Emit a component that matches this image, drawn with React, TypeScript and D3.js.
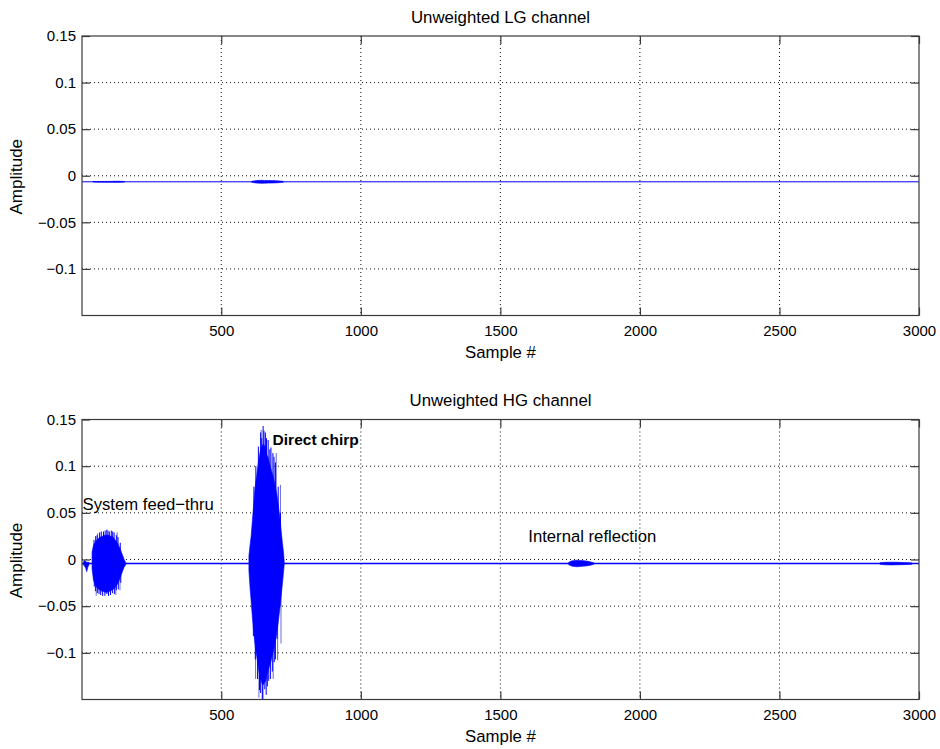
import React, { useRef, useEffect } from "react";
import * as d3 from "d3";

const WIDTH = 940;
const HEIGHT = 749;
const LEFT = 82;
const RIGHT = 919;
const FONT = "'Liberation Sans', Arial, Helvetica, sans-serif";
const BLUE = "#0000ff";
const SPIKE = "#6c6cd0";
const AXIS = "#3a3a3a";

const X_DOMAIN = [1, 3000];
const Y_DOMAIN = [-0.15, 0.15];
const X_TICKS = [500, 1000, 1500, 2000, 2500, 3000];
const Y_TICKS = [-0.1, -0.05, 0, 0.05, 0.1, 0.15];

// LG channel: flat offset with two faint blips
const LG_BASE = -0.0065;
const LG_BLIP1_S = [40, 70, 100, 120, 135, 153];
const LG_BLIP1_HI = [-0.0062, -0.0061, -0.0061, -0.0059, -0.0059, -0.0062];
const LG_BLIP1_LO = [-0.0068, -0.0069, -0.0069, -0.0071, -0.0071, -0.0068];
const LG_BLIP2_S = [609, 625, 640, 655, 670, 685, 700, 722];
const LG_BLIP2_HI = [-0.006, -0.0052, -0.0049, -0.005, -0.0051, -0.0052, -0.0054, -0.006];
const LG_BLIP2_LO = [-0.007, -0.0078, -0.0081, -0.008, -0.0079, -0.0078, -0.0076, -0.007];

// HG channel
const HG_BASE = -0.0043;

const PRE_S = [6, 10, 14, 18, 22, 26];
const PRE_HI = [-0.003, -0.001, -0.002, -0.003, -0.003, -0.003];
const PRE_LO = [-0.006, -0.007, -0.009, -0.013, -0.008, -0.006];

const FEED_S = [37, 42, 47, 52, 57, 62, 67, 72, 77, 82, 87, 92, 97, 102, 107, 112, 117, 122, 127, 132, 137, 142, 147, 152, 157];
const FEED_HI = [0.008, 0.015, 0.018, 0.02, 0.022, 0.023, 0.024, 0.025, 0.025, 0.026, 0.026, 0.026, 0.026, 0.025, 0.025, 0.024, 0.022, 0.02, 0.018, 0.015, 0.012, 0.008, 0.004, 0.0, -0.003];
const FEED_LO = [-0.01, -0.022, -0.026, -0.029, -0.031, -0.032, -0.033, -0.034, -0.034, -0.035, -0.035, -0.035, -0.034, -0.034, -0.033, -0.032, -0.031, -0.029, -0.027, -0.024, -0.02, -0.016, -0.012, -0.008, -0.006];
const FEED_PEAKS = [
  [44, 0.021], [50, 0.025], [55, 0.026], [64, 0.029], [70, 0.03], [78, 0.03], [84, 0.031], [90, 0.032],
  [94, 0.031], [99, 0.03], [106, 0.031], [111, 0.03], [116, 0.029], [124, 0.026], [130, 0.024], [138, 0.018],
  [45, -0.029], [49, -0.034], [56, -0.036], [62, -0.037], [68, -0.038], [75, -0.039], [83, -0.039], [90, -0.037],
  [96, -0.039], [103, -0.038], [110, -0.036], [117, -0.037], [124, -0.033], [131, -0.032], [140, -0.025],
];
const FEED_SPIKES = [[52, -0.039], [57, 0.028], [122, -0.038], [127, 0.029], [137, -0.033]];

const CHIRP_S = [599, 603, 607, 611, 615, 619, 623, 627, 631, 635, 639, 643, 647, 651, 655, 659, 663, 667, 671, 675, 679, 683, 687, 691, 695, 699, 703, 707, 711, 715, 719, 723, 726];
const CHIRP_HI = [0.004, 0.015, 0.025, 0.04, 0.055, 0.07, 0.082, 0.09, 0.1, 0.108, 0.115, 0.12, 0.122, 0.124, 0.122, 0.12, 0.112, 0.11, 0.105, 0.1, 0.096, 0.092, 0.088, 0.082, 0.076, 0.07, 0.062, 0.052, 0.042, 0.03, 0.018, 0.008, -0.004];
const CHIRP_LO = [-0.012, -0.03, -0.045, -0.06, -0.074, -0.086, -0.096, -0.104, -0.112, -0.12, -0.126, -0.13, -0.134, -0.134, -0.132, -0.13, -0.124, -0.12, -0.116, -0.112, -0.108, -0.102, -0.098, -0.092, -0.086, -0.078, -0.07, -0.06, -0.05, -0.038, -0.026, -0.014, -0.004];
const CHIRP_PEAKS = [
  [617, 0.078], [624, 0.1], [633, 0.121], [641, 0.136], [645, 0.13], [650, 0.143], [653, 0.138], [658, 0.136],
  [662, 0.13], [668, 0.128], [674, 0.118], [678, 0.12], [685, 0.114], [689, 0.11], [694, 0.104], [704, 0.078], [712, 0.05],
  [615, -0.082], [622, -0.107], [630, -0.128], [637, -0.14], [641, -0.143], [647, -0.15], [649, -0.15], [656, -0.139],
  [661, -0.145], [665, -0.136], [670, -0.13], [676, -0.128], [683, -0.12], [690, -0.11], [694, -0.107], [700, -0.085], [710, -0.05],
];
const CHIRP_SPIKES = [[623, -0.128], [635, -0.148], [643, 0.139], [686, -0.128], [697, 0.114], [702, -0.108], [712, 0.08], [714, -0.09]];

const REFL_S = [1745, 1755, 1765, 1775, 1785, 1795, 1805, 1815, 1825, 1835];
const REFL_HI = [-0.003, -0.0015, -0.001, -0.0008, -0.001, -0.0012, -0.0015, -0.002, -0.0028, -0.0035];
const REFL_LO = [-0.0056, -0.007, -0.0075, -0.0078, -0.0075, -0.0072, -0.007, -0.0066, -0.006, -0.0052];

const TAIL_S = [2860, 2880, 2900, 2920, 2940, 2960, 2975];
const TAIL_HI = [-0.0035, -0.003, -0.0029, -0.003, -0.0032, -0.0034, -0.0037];
const TAIL_LO = [-0.0052, -0.0057, -0.0058, -0.0057, -0.0055, -0.0053, -0.005];

const PANELS = [
  {
    title: "Unweighted LG channel",
    top: 36,
    bottom: 315.5,
    base: LG_BASE,
    baseWidth: 1,
    bursts: [
      [LG_BLIP1_S, LG_BLIP1_HI, LG_BLIP1_LO],
      [LG_BLIP2_S, LG_BLIP2_HI, LG_BLIP2_LO],
    ],
    peaks: [],
    spikes: [],
    notes: [],
  },
  {
    title: "Unweighted HG channel",
    top: 419.5,
    bottom: 699.5,
    base: HG_BASE,
    baseWidth: 1.7,
    bursts: [
      [PRE_S, PRE_HI, PRE_LO],
      [FEED_S, FEED_HI, FEED_LO],
      [CHIRP_S, CHIRP_HI, CHIRP_LO],
      [REFL_S, REFL_HI, REFL_LO],
      [TAIL_S, TAIL_HI, TAIL_LO],
    ],
    peaks: [...FEED_PEAKS, ...CHIRP_PEAKS],
    spikes: [...FEED_SPIKES, ...CHIRP_SPIKES],
    notes: [
      { s: 3, v: 0.053, text: "System feed\u2212thru", bold: false, size: 16.7 },
      { s: 684, v: 0.1226, text: "Direct chirp", bold: true, size: 15.5 },
      { s: 1600, v: 0.0187, text: "Internal reflection", bold: false, size: 16.7 },
    ],
  },
];

const fmtY = (d) => (d < 0 ? "\u2212" : "") + String(Math.abs(d));

const drawPanel = (svg, p, idx) => {
  const x = d3.scaleLinear().domain(X_DOMAIN).range([LEFT, RIGHT]);
  const y = d3.scaleLinear().domain(Y_DOMAIN).range([p.bottom, p.top]);
  const g = svg.append("g");
  const clipId = `clip-${idx}`;

  g.append("clipPath")
    .attr("id", clipId)
    .append("rect")
    .attr("x", LEFT)
    .attr("y", p.top)
    .attr("width", RIGHT - LEFT)
    .attr("height", p.bottom - p.top);

  // dotted grid
  const grid = g.append("g").attr("stroke", "#111").attr("stroke-width", 1).attr("stroke-dasharray", "1,3");
  grid
    .selectAll("line.vx")
    .data(X_TICKS.filter((t) => t < X_DOMAIN[1]))
    .join("line")
    .attr("x1", (d) => x(d))
    .attr("x2", (d) => x(d))
    .attr("y1", p.top)
    .attr("y2", p.bottom);
  grid
    .selectAll("line.hy")
    .data(Y_TICKS.filter((t) => t < Y_DOMAIN[1]))
    .join("line")
    .attr("x1", LEFT)
    .attr("x2", RIGHT)
    .attr("y1", (d) => y(d))
    .attr("y2", (d) => y(d));

  const data = g.append("g").attr("clip-path", `url(#${clipId})`);

  // baseline of the trace
  data
    .append("path")
    .datum(X_DOMAIN)
    .attr("fill", "none")
    .attr("stroke", BLUE)
    .attr("stroke-width", p.baseWidth)
    .attr(
      "d",
      d3
        .line()
        .x((d) => x(d))
        .y(() => y(p.base))
    );

  // faint spikes (anti-aliased looking strokes)
  data
    .selectAll("line.spike")
    .data(p.spikes)
    .join("line")
    .attr("x1", (d) => x(d[0]))
    .attr("x2", (d) => x(d[0]))
    .attr("y1", y(p.base))
    .attr("y2", (d) => y(d[1]))
    .attr("stroke", SPIKE)
    .attr("stroke-width", 1);

  // solid burst cores
  const env = d3
    .area()
    .x((d) => x(d[0]))
    .y0((d) => y(d[2]))
    .y1((d) => y(d[1]));
  p.bursts.forEach(([s, hi, lo]) => {
    data
      .append("path")
      .datum(s.map((v, i) => [v, hi[i], lo[i]]))
      .attr("fill", BLUE)
      .attr("stroke", BLUE)
      .attr("stroke-width", 0.6)
      .attr("d", env);
  });

  // individual oscillation peaks sticking out of the cores
  data
    .selectAll("line.peak")
    .data(p.peaks)
    .join("line")
    .attr("x1", (d) => x(d[0]))
    .attr("x2", (d) => x(d[0]))
    .attr("y1", y(p.base))
    .attr("y2", (d) => y(d[1]))
    .attr("stroke", BLUE)
    .attr("stroke-width", 1);

  // box
  g.append("rect")
    .attr("x", LEFT)
    .attr("y", p.top)
    .attr("width", RIGHT - LEFT)
    .attr("height", p.bottom - p.top)
    .attr("fill", "none")
    .attr("stroke", AXIS)
    .attr("stroke-width", 1.2);

  const style = (a) => {
    a.select(".domain").remove();
    a.selectAll("line").attr("stroke", AXIS).attr("stroke-width", 1.2);
    a.attr("font-size", 15).attr("font-family", FONT);
    a.selectAll("text").attr("fill", "#000");
  };

  g.append("g")
    .attr("transform", `translate(0,${p.bottom})`)
    .call(d3.axisBottom(x).tickValues(X_TICKS).tickSize(-8).tickPadding(10).tickFormat(d3.format("d")))
    .call(style);
  g.append("g")
    .attr("transform", `translate(0,${p.top})`)
    .call(d3.axisTop(x).tickValues(X_TICKS).tickSize(-8).tickFormat(() => ""))
    .call(style);
  g.append("g")
    .attr("transform", `translate(${LEFT},0)`)
    .call(d3.axisLeft(y).tickValues(Y_TICKS).tickSize(-8).tickPadding(6).tickFormat(fmtY))
    .call(style);
  g.append("g")
    .attr("transform", `translate(${RIGHT},0)`)
    .call(d3.axisRight(y).tickValues(Y_TICKS).tickSize(-8).tickFormat(() => ""))
    .call(style);

  // titles and labels
  g.append("text")
    .attr("x", (LEFT + RIGHT) / 2)
    .attr("y", p.top - 13.5)
    .attr("text-anchor", "middle")
    .attr("font-family", FONT)
    .attr("font-size", 16.8)
    .text(p.title);
  g.append("text")
    .attr("x", (LEFT + RIGHT) / 2)
    .attr("y", p.bottom + 42.5)
    .attr("text-anchor", "middle")
    .attr("font-family", FONT)
    .attr("font-size", 16.8)
    .text("Sample #");
  g.append("text")
    .attr("transform", `translate(22,${(p.top + p.bottom) / 2 + 1}) rotate(-90)`)
    .attr("text-anchor", "middle")
    .attr("font-family", FONT)
    .attr("font-size", 17)
    .text("Amplitude");

  g.selectAll("text.note")
    .data(p.notes)
    .join("text")
    .attr("x", (d) => x(d.s))
    .attr("y", (d) => y(d.v))
    .attr("font-family", FONT)
    .attr("font-size", (d) => d.size)
    .attr("font-weight", (d) => (d.bold ? "bold" : "normal"))
    .text((d) => d.text);
};

export default function App() {
  const ref = useRef(null);

  useEffect(() => {
    ref.current.innerHTML = "";
    const svg = d3
      .select(ref.current)
      .append("svg")
      .attr("width", WIDTH)
      .attr("height", HEIGHT)
      .style("display", "block")
      .style("background", "#fff");
    PANELS.forEach((p, i) => drawPanel(svg, p, i));
  }, []);

  return <div ref={ref} style={{ position: "absolute", left: 0, top: 0 }} />;
}
